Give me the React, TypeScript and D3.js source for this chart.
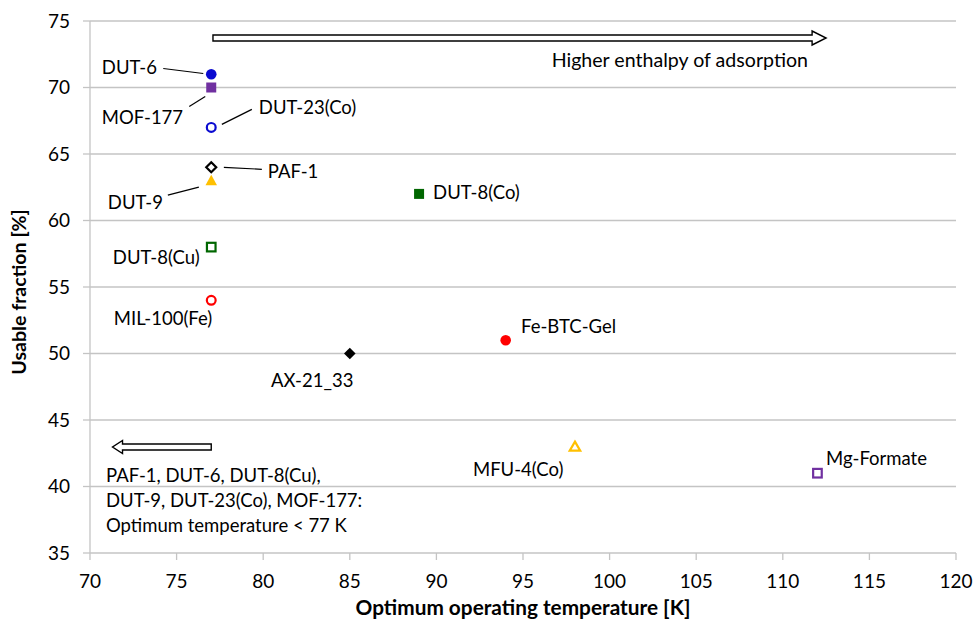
import React from "react";
import * as d3 from "d3";

const names = ["DUT-6", "MOF-177", "DUT-23(Co)", "PAF-1", "DUT-9", "DUT-8(Cu)", "MIL-100(Fe)", "AX-21_33", "Fe-BTC-Gel", "DUT-8(Co)", "MFU-4(Co)", "Mg-Formate"];
const temps = [77, 77, 77, 77, 77, 77, 77, 85, 94, 89, 98, 112];
const fractions = [71, 70, 67, 64, 63, 58, 54, 50, 51, 62, 43, 41];
const shapes = ["circle", "square", "circle", "diamond", "triangle", "square", "circle", "diamond", "circle", "square", "triangle", "square"];
const filled = [true, true, false, false, true, false, false, true, true, true, false, false];
const colors = ["#0a0ad0", "#7030a0", "#0a0ad0", "#000000", "#ffc000", "#006600", "#ff0000", "#000000", "#ff0000", "#006600", "#ffc000", "#7030a0"];

const xTicks = [70, 75, 80, 85, 90, 95, 100, 105, 110, 115, 120];
const yTicks = [35, 40, 45, 50, 55, 60, 65, 70, 75];

const xTitle = "Optimum operating temperature [K]";
const yTitle = "Usable fraction [%]";
const topNote = "Higher enthalpy of adsorption";
const bottomNote = ["PAF-1, DUT-6, DUT-8(Cu),", "DUT-9, DUT-23(Co), MOF-177:", "Optimum temperature < 77 K"];

// label layout: offsets from marker (pixels), optional leader line
const labelLayout: Record<string, { dx: number; dy: number; line?: [number, number, number, number] }> = {
  "DUT-6": { dx: -109.4, dy: -0.7, line: [-48, -5.7, -8, -0.7] },
  "MOF-177": { dx: -109.4, dy: 36, line: [-22, 19, -6, 9] },
  "DUT-23(Co)": { dx: 47.6, dy: -13, line: [10.6, -3, 40.6, -18] },
  "PAF-1": { dx: 56.6, dy: 11, line: [12.6, 0, 50.6, 2] },
  "DUT-9": { dx: -103.4, dy: 28.6, line: [-43.4, 14.6, -12.4, 6.6] },
  "DUT-8(Cu)": { dx: -98.4, dy: 17 },
  "MIL-100(Fe)": { dx: -97.4, dy: 24.6 },
  "AX-21_33": { dx: -78.8, dy: 33.5 },
  "Fe-BTC-Gel": { dx: 15.3, dy: -7 },
  "DUT-8(Co)": { dx: 14, dy: 5.4 },
  "MFU-4(Co)": { dx: -102, dy: 29 },
  "Mg-Formate": { dx: 8.6, dy: -8 },
};

const FONT = "Lato, 'Open Sans', sans-serif";
const FS = 18.5;

function Marker({ shape, x, y, color, fill }: { shape: string; x: number; y: number; color: string; fill: boolean }) {
  const f = fill ? color : "white";
  const sw = fill ? 0 : 2.2;
  if (shape === "circle") {
    const r = fill ? 5.3 : 4.4;
    return <circle cx={x} cy={y} r={r} fill={f} stroke={color} strokeWidth={sw} />;
  }
  if (shape === "square") {
    const s = fill ? 10 : 8.6;
    return <rect x={x - s / 2} y={y - s / 2} width={s} height={s} fill={f} stroke={color} strokeWidth={sw} />;
  }
  if (shape === "diamond") {
    const r = fill ? 5.8 : 5;
    return <path d={`M${x},${y - r}L${x + r},${y}L${x},${y + r}L${x - r},${y}Z`} fill={f} stroke={color} strokeWidth={sw} />;
  }
  const h = fill ? 10.5 : 9;
  const w = fill ? 11.5 : 10.5;
  return <path d={`M${x},${y - h * 0.55}L${x + w / 2},${y + h * 0.45}L${x - w / 2},${y + h * 0.45}Z`} fill={f} stroke={color} strokeWidth={sw} strokeLinejoin="miter" />;
}

function blockArrow(x0: number, x1: number, y: number, body: number, head: number, headLen: number) {
  const dir = Math.sign(x1 - x0);
  const hb = x1 - dir * headLen;
  return `M${x0},${y - body / 2}L${hb},${y - body / 2}L${hb},${y - head / 2}L${x1},${y}L${hb},${y + head / 2}L${hb},${y + body / 2}L${x0},${y + body / 2}Z`;
}

export default function App() {
  const W = 974, H = 622;
  const left = 90, right = 956, top = 21, bottom = 553;
  const x = d3.scaleLinear().domain([70, 120]).range([left, right]);
  const y = d3.scaleLinear().domain([35, 75]).range([bottom, top]);
  const grid = "#c4c4c4";

  return (
    <svg width={W} height={H} style={{ position: "absolute", left: 0, top: 0, background: "white" }} fontFamily={FONT}>
      <rect width={W} height={H} fill="white" />
      {yTicks.map((t) => (
        <g key={"y" + t}>
          {t > 35 && <line x1={left} x2={right} y1={y(t)} y2={y(t)} stroke={grid} strokeWidth={1.3} />}
          <line x1={left - 7} x2={left} y1={y(t)} y2={y(t)} stroke={grid} strokeWidth={1.3} />
          <text x={70} y={y(t)} dy="0.35em" textAnchor="end" fontSize={19} fill="#000">{t}</text>
        </g>
      ))}
      <line x1={left} x2={left} y1={top} y2={bottom} stroke={grid} strokeWidth={1.3} />
      <line x1={left} x2={right} y1={bottom} y2={bottom} stroke={grid} strokeWidth={1.3} />
      {xTicks.map((t) => (
        <g key={"x" + t}>
          <line x1={x(t)} x2={x(t)} y1={bottom} y2={bottom + 7} stroke={grid} strokeWidth={1.3} />
          <text x={x(t)} y={588} textAnchor="middle" fontSize={19} fill="#000">{t}</text>
        </g>
      ))}
      <text x={523} y={615} textAnchor="middle" fontSize={20.8} fontWeight="bold">{xTitle}</text>
      <text transform={`translate(26,292) rotate(-90)`} textAnchor="middle" fontSize={19.6} fontWeight="bold">{yTitle}</text>

      <path d={blockArrow(x(77.1), x(112.5), 38, 6, 14, 14)} fill="white" stroke="#000" strokeWidth={1.4} />
      <text x={808} y={67} textAnchor="end" fontSize={19.6}>{topNote}</text>
      <path d={blockArrow(x(77), x(71.3), 447, 6, 13, 10)} fill="white" stroke="#000" strokeWidth={1.4} />
      {bottomNote.map((l, i) => (
        <text key={l} x={106} y={482 + i * 25} fontSize={FS}>{l}</text>
      ))}

      {names.map((n, i) => {
        const mx = x(temps[i]);
        const my = y(fractions[i]);
        const L = labelLayout[n];
        return (
          <g key={n}>
            {L.line && (
              <line x1={mx + L.line[0]} y1={my + L.line[1]} x2={mx + L.line[2]} y2={my + L.line[3]} stroke="#000" strokeWidth={1.2} />
            )}
            <Marker shape={shapes[i]} x={mx} y={my} color={colors[i]} fill={filled[i]} />
            <text x={mx + L.dx} y={my + L.dy} fontSize={FS} fill="#000">{n}</text>
          </g>
        );
      })}
    </svg>
  );
}
